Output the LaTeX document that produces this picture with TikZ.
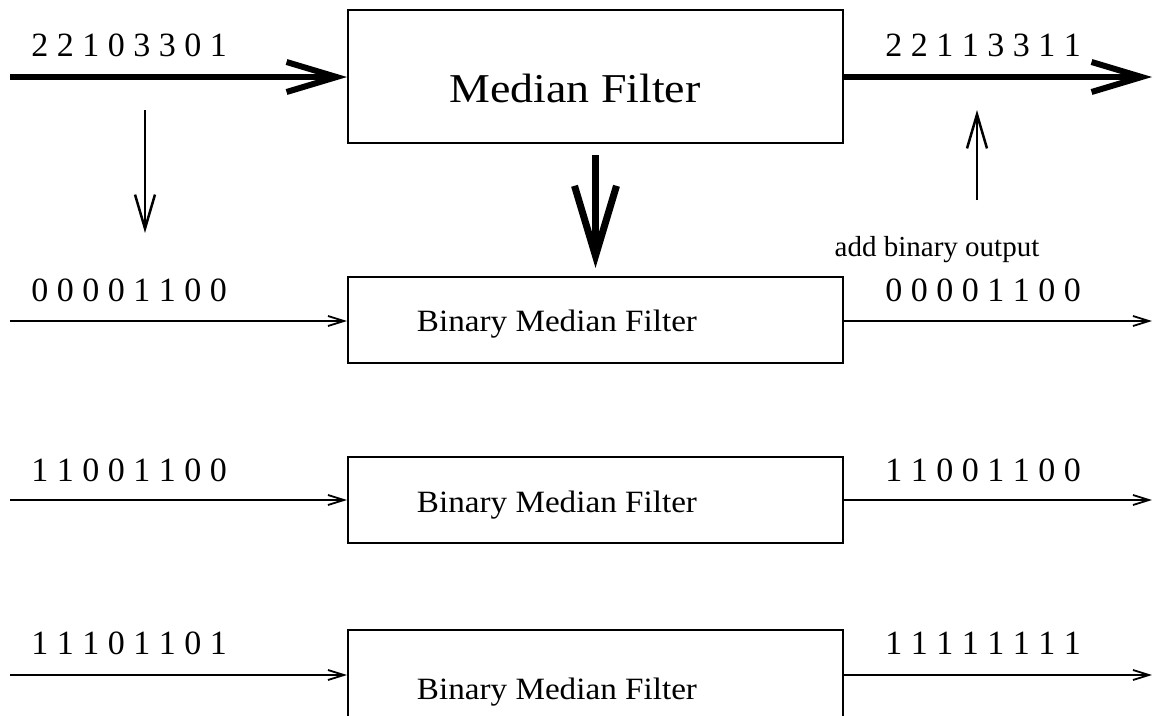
\documentclass[tikz,border=0pt]{standalone}
\usepackage{fontspec}
\setmainfont{Liberation Serif}
\newfontfamily\boxfont[FakeStretch=1.12]{Liberation Serif}
\newfontfamily\binfont[FakeStretch=1.07]{Liberation Serif}
\usetikzlibrary{arrows.meta}
\begin{document}
\begin{tikzpicture}[x=1pt,y=-1pt,
  bigbox/.style={draw, line width=2pt, minimum width=495pt, minimum height=133pt, inner sep=0pt},
  binbox/.style={draw, line width=2pt, minimum width=495pt, minimum height=86pt, inner sep=0pt},
  bits/.style={anchor=base, inner sep=0pt, font=\fontsize{34}{40}\selectfont},
  bigtitle/.style={anchor=base, inner sep=0pt, font=\boxfont\fontsize{41}{47}\selectfont},
  bintitle/.style={anchor=base, inner sep=0pt, font=\binfont\fontsize{31}{37}\selectfont},
  note/.style={anchor=base, inner sep=0pt, font=\fontsize{29}{35}\selectfont},
  heavy/.style={line width=6pt, -{Straight Barb[length=50pt, width=30pt]}},
  heavydown/.style={line width=7pt, -{Straight Barb[length=70pt, width=42pt]}},
  light/.style={line width=1.8pt, -{Straight Barb[length=16pt, width=10pt]}},
  pointer/.style={line width=2.5pt, -{Straight Barb[length=34pt, width=20pt]}}
]
\clip (0,0) rectangle (1154,715);

% main filter and its stream
\node[bigbox] (mf) at (595.5,76.5) {};
\node[bigtitle] (mft) at (575,102) {Median Filter};
\coordinate (in0) at (10,77);
\coordinate (out0) at (1152,77);
\draw[heavy] (in0) -- (mf.west |- in0);
\draw[heavy] (mf.east |- out0) -- (out0);
\node[bits] (l0) at (129,56) {2 2 1 0 3 3 0 1};
\node[bits] (r0) at (983,56) {2 2 1 1 3 3 1 1};

% threshold decomposition and recombination
\coordinate (d0) at (145,110);
\coordinate (d1) at (145,233);
\draw[pointer] (d0) -- (d1);
\coordinate (m0) at (595.5,155);
\coordinate (m1) at (595.5,268);
\draw[heavydown] (m0) -- (m1);
\coordinate (u0) at (977,200);
\coordinate (u1) at (977,110);
\draw[pointer] (u0) -- (u1);
\node[note] (add) at (937,256) {add binary output};

% binary median filters
\node[binbox] (b1) at (595.5,320) {};
\node[bintitle] (t1) at (557,331) {Binary Median Filter};
\coordinate (in1) at (10,321);
\coordinate (out1) at (1152,321);
\draw[light] (in1) -- (b1.west |- in1);
\draw[light] (b1.east |- out1) -- (out1);
\node[bits] (l1) at (129,301) {0 0 0 0 1 1 0 0};
\node[bits] (r1) at (983,301) {0 0 0 0 1 1 0 0};

\node[binbox] (b2) at (595.5,499.5) {};
\node[bintitle] (t2) at (557,512) {Binary Median Filter};
\coordinate (in2) at (10,500);
\coordinate (out2) at (1152,500);
\draw[light] (in2) -- (b2.west |- in2);
\draw[light] (b2.east |- out2) -- (out2);
\node[bits] (l2) at (129,481) {1 1 0 0 1 1 0 0};
\node[bits] (r2) at (983,481) {1 1 0 0 1 1 0 0};

\node[binbox, minimum height=110pt] (b3) at (595.5,685) {};
\node[bintitle] (t3) at (557,699) {Binary Median Filter};
\coordinate (in3) at (10,675);
\coordinate (out3) at (1152,675);
\draw[light] (in3) -- (b3.west |- in3);
\draw[light] (b3.east |- out3) -- (out3);
\node[bits] (l3) at (129,654) {1 1 1 0 1 1 0 1};
\node[bits] (r3) at (983,654) {1 1 1 1 1 1 1 1};
\end{tikzpicture}
\end{document}
